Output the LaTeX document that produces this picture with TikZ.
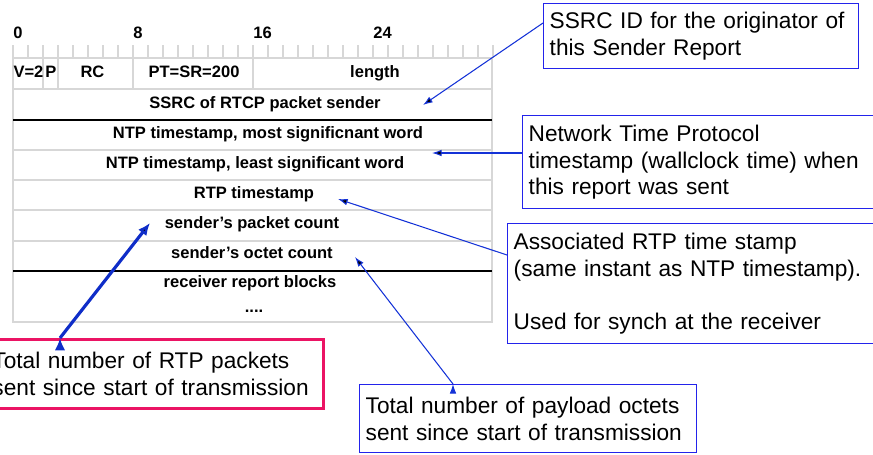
\documentclass[tikz,border=0pt]{standalone}
\usepackage{fontspec}
\setmainfont{Liberation Sans}
\usetikzlibrary{calc, arrows.meta}
\definecolor{notebl}{RGB}{35,35,235}
\definecolor{ptrbl}{RGB}{20,50,215}
\definecolor{ptrdk}{RGB}{15,45,200}
\definecolor{notepk}{RGB}{235,20,100}
\definecolor{gridgr}{RGB}{215,215,215}
\hyphenpenalty=10000
\exhyphenpenalty=10000

\begin{document}
\begin{tikzpicture}[x=0.02cm, y=-0.02cm]
    \tikzset{
      fld/.style={
        font=\fontsize{9.4}{11}\selectfont\bfseries,
        anchor=base,
        inner sep=0pt,
      },
      note/.style={
        draw=notebl,
        line width=0.8pt,
        anchor=north west,
        align=left,
        inner xsep=0.12cm,
        font=\fontsize{12.9}{15.3}\selectfont,
      },
      ptr/.style={
        draw=ptrbl,
        line width=0.6pt,
        -{Latex[length=5.5pt,width=3.8pt]},
      }
    }
    \tikzstyle{gline} = [draw=gridgr, line width=0.6pt]
    \tikzstyle{bline} = [draw=black, line width=1.6pt]

    \pgfmathsetmacro{\xl}{13}
    \pgfmathsetmacro{\xr}{492}
    \pgfmathsetmacro{\bw}{15}

    \useasboundingbox (0,0) rectangle (873,454);
    \clip (0,0) rectangle (873,454);

    % bit ruler
    \foreach \i in {0,...,32}
        \draw[gline] (\xl+\i*\bw,45) -- (\xl+\i*\bw,58);
    \foreach \i in {0,8,16,24}
        \node[fld, anchor=base west] (bit\i) at (\xl+\i*\bw,38) {\i};

    % packet grid
    \draw[gline] (\xl,58) rectangle (\xr,322);
    \foreach \y in {58,89,150,180,210,241}
        \draw[gline] (\xl,\y) -- (\xr,\y);
    \foreach \i in {2,3,8,16}
        \draw[gline] (\xl+\i*\bw,58) -- (\xl+\i*\bw,89);
    \draw[bline] (\xl,120) -- (\xr,120);
    \draw[bline] (\xl,271) -- (\xr,271);

    % header fields
    \node[fld] (ver) at (28.5,77) {V=2};
    \node[fld] (pad) at (51,77) {P};
    \node[fld] (rc)  at (92.5,77) {RC};
    \node[fld] (pt)  at (194,77) {PT=SR=200};
    \node[fld] (len) at (375,77) {length};

    % sender info
    \node[fld] (ssrc)   at (265,108) {SSRC of RTCP packet sender};
    \node[fld] (ntpmsw) at (268,138) {NTP timestamp, most significnant word};
    \node[fld] (ntplsw) at (255,168) {NTP timestamp, least significant word};
    \node[fld] (rtpts)  at (254,198) {RTP timestamp};
    \node[fld] (pktcnt) at (252,228) {sender's packet count};
    \node[fld] (octcnt) at (252,258) {sender's octet count};
    \node[fld] (rrblk)  at (250,287) {receiver report blocks};
    \node[fld] (more)   at (254,312) {....};

    % notes
    \node[note, minimum width=6.3cm, minimum height=1.3cm, text width=6.06cm]
        (ssrcnote) at (543,3) {SSRC ID for the originator of\\this Sender Report};
    \node[note, minimum width=7.2cm, minimum height=1.86cm, text width=6.96cm]
        (ntpnote) at (522,115) {Network Time Protocol\\timestamp (wallclock time) when\\this report was sent};
    \node[note, minimum width=7.5cm, minimum height=2.4cm, text width=7.26cm]
        (rtpnote) at (507,223) {Associated RTP time stamp\\(same instant as NTP timestamp).\\[15.3pt]Used for synch at the receiver};
    \node[note, draw=notepk, line width=1.7pt, minimum width=6.74cm, minimum height=1.38cm, text width=6.5cm]
        (pktnote) at (-15,338) {Total number of RTP packets\\sent since start of transmission};
    \node[note, minimum width=6.74cm, minimum height=1.36cm, text width=6.5cm]
        (octnote) at (359,384) {Total number of payload octets\\sent since start of transmission};

    \coordinate (ssrctip) at (423,105);
    \coordinate (ntptip)  at (432,153);
    \coordinate (rtptip)  at (338,199);
    \coordinate (pkttip)  at (150,223);
    \coordinate (octtip)  at (355,257);

    \path[ptr]
        ($(ssrcnote.north west)+(0,20)$) edge (ssrctip)
        ($(ntpnote.north west)+(0,38)$)  edge (ntptip)
        ($(rtpnote.north west)+(0,32)$)  edge (rtptip)
        ($(octnote.north west)+(94,0)$)  edge (octtip);

    % packet count, thick one
    \path[ptr, draw=ptrdk, line width=1.8pt, -{Latex[length=7pt,width=6pt]}]
        ($(pktnote.north west)+(75,0)$) edge (pkttip);
\end{tikzpicture}
\end{document}
